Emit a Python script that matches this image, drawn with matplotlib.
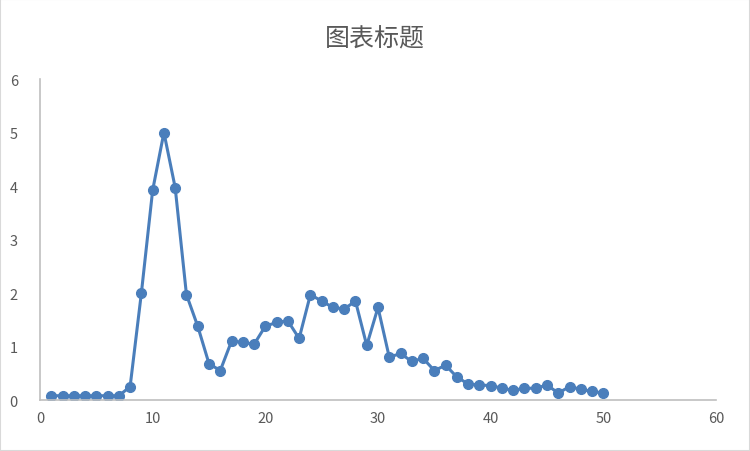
import matplotlib.pyplot as plt

plt.rcParams['font.family'] = ['Noto Sans CJK SC', 'DejaVu Sans']

# data
x = list(range(1, 51))
y = [0.08, 0.08, 0.08, 0.08, 0.08, 0.08, 0.08, 0.25, 2.0, 3.92,
     5.0, 3.97, 1.97, 1.38, 0.68, 0.55, 1.1, 1.08, 1.04, 1.38,
     1.45, 1.48, 1.15, 1.97, 1.85, 1.73, 1.70, 1.85, 1.02, 1.73,
     0.80, 0.87, 0.72, 0.78, 0.55, 0.65, 0.43, 0.30, 0.28, 0.27,
     0.22, 0.18, 0.22, 0.22, 0.28, 0.13, 0.25, 0.20, 0.16, 0.13]
title = '图表标题'

fig = plt.figure(figsize=(7.5, 4.52), dpi=100)
ax = fig.add_axes([0.0533, 0.1128, 0.9014, 0.7102])

ax.plot(x, y, '-o', color='#4a7ebb', linewidth=2.2, markersize=7)

ax.set_xlim(0, 60)
ax.set_ylim(0, 6)
ax.set_xticks(range(0, 61, 10))
ax.set_yticks(range(0, 7))

for s in ['top', 'right']:
    ax.spines[s].set_visible(False)
for s in ['left', 'bottom']:
    ax.spines[s].set_color('#bfbfbf')
    ax.spines[s].set_linewidth(1.2)
ax.tick_params(length=0, labelsize=10.5, colors='#595959')
ax.tick_params(axis='x', pad=8)
ax.tick_params(axis='y', pad=16)

fig.text(0.5, 0.912, title, ha='center', va='center', fontsize=18, color='#595959')

# light frame around the picture
fig.patches.append(plt.Rectangle((0, 0), 1, 1, transform=fig.transFigure,
                                 fill=False, edgecolor='#d9d9d9', linewidth=1.5))

fig.savefig('out.png', dpi=100)
